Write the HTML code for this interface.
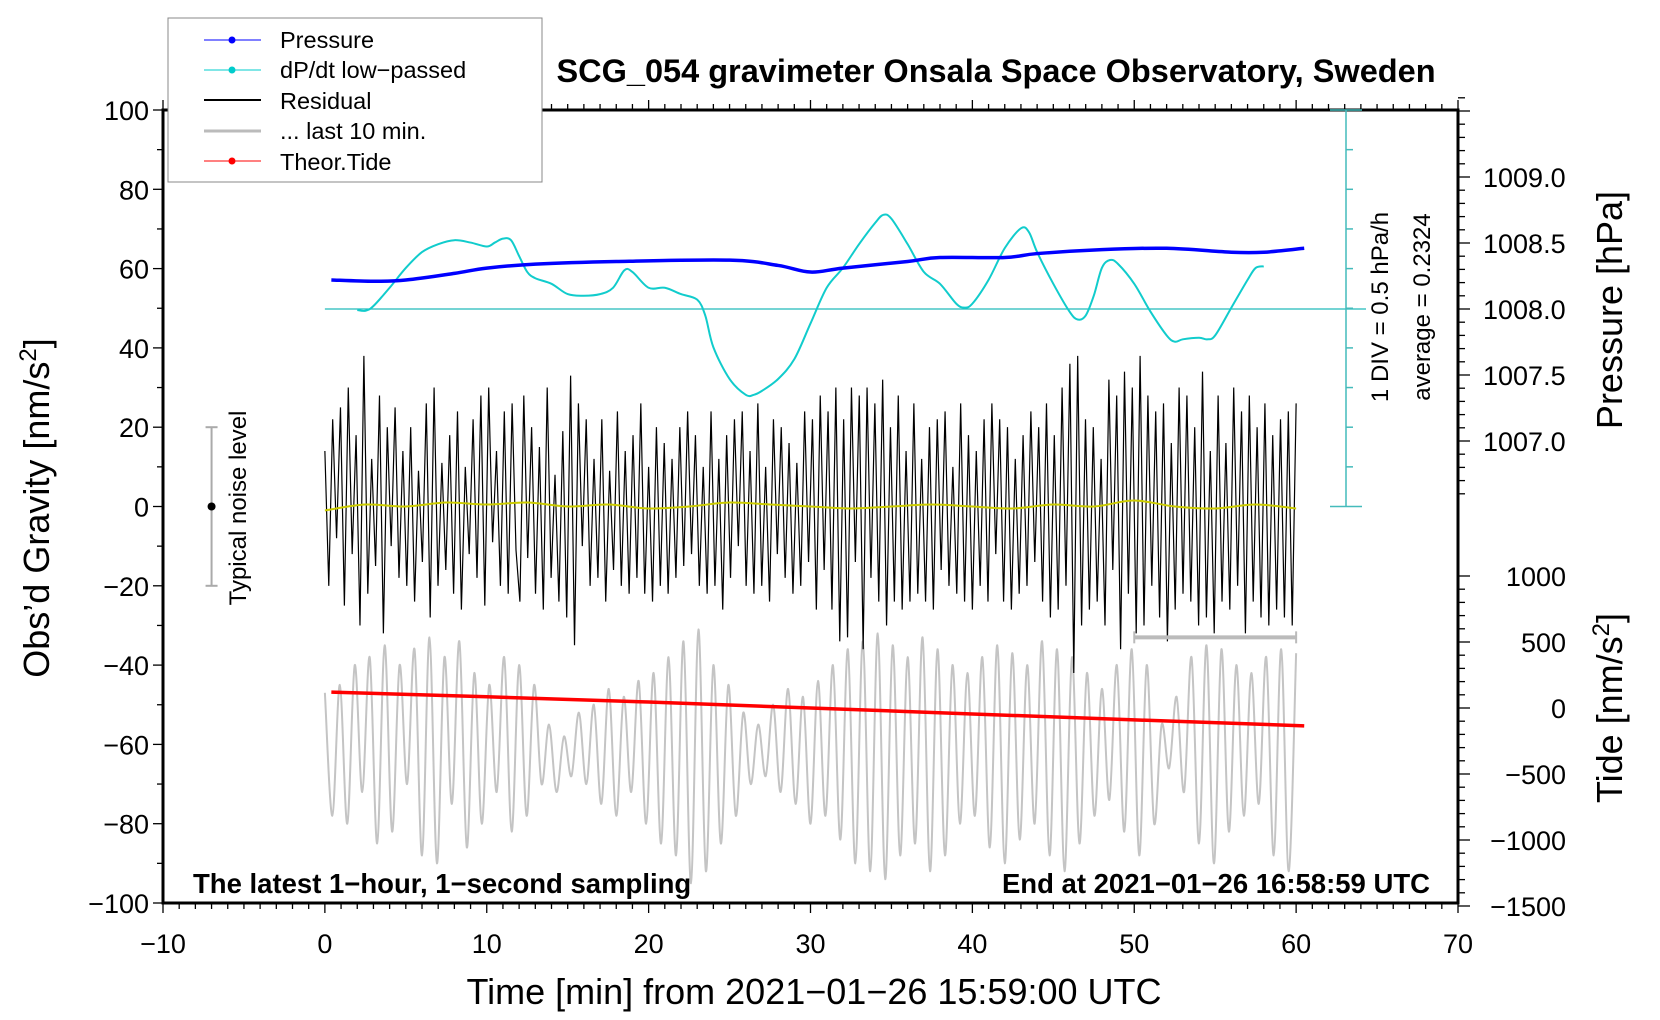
<!DOCTYPE html>
<html><head><meta charset="utf-8"><style>
html,body{margin:0;padding:0;background:#fff}
svg{display:block;font-family:"Liberation Sans",sans-serif}
</style></head><body>
<svg id="chart" width="1660" height="1020" viewBox="0 0 1660 1020" xmlns="http://www.w3.org/2000/svg">
<g id="marks"></g>
<g id="axes"></g>
<text x="996" y="82" font-size="32.5" font-weight="bold" text-anchor="middle">SCG_054 gravimeter Onsala Space Observatory, Sweden</text>
<text x="193" y="893" font-size="27.5" font-weight="bold">The latest 1−hour, 1−second sampling</text>
<text x="1430" y="893" font-size="27.5" font-weight="bold" text-anchor="end">End at 2021−01−26 16:58:59 UTC</text>
<text x="814" y="1004" font-size="36" text-anchor="middle">Time [min] from 2021−01−26 15:59:00 UTC</text>
<text transform="translate(49,508) rotate(-90)" font-size="36" text-anchor="middle">Obs’d Gravity [nm/s<tspan font-size="24" dy="-13">2</tspan><tspan dy="13">]</tspan></text>
<text transform="translate(1622,310) rotate(-90)" font-size="36" text-anchor="middle">Pressure [hPa]</text>
<text transform="translate(1622,708) rotate(-90)" font-size="36" text-anchor="middle">Tide [nm/s<tspan font-size="24" dy="-13">2</tspan><tspan dy="13">]</tspan></text>
<text transform="translate(1388,307) rotate(-90)" font-size="24" text-anchor="middle">1 DIV = 0.5 hPa/h</text>
<text transform="translate(1430,307) rotate(-90)" font-size="24" text-anchor="middle">average = 0.2324</text>
<text transform="translate(246,508) rotate(-90)" font-size="24" text-anchor="middle">Typical noise level</text>
<g>
<rect x="168" y="18" width="374" height="164" fill="#fff" stroke="#888" stroke-width="1"/>
<g><line x1="204" y1="40" x2="261" y2="40" stroke="#00f" stroke-width="1"/><circle cx="232" cy="40" r="3.5" fill="#00f"/><text x="280" y="48" font-size="23.5">Pressure</text></g>
<g><line x1="204" y1="70" x2="261" y2="70" stroke="#0cc" stroke-width="1"/><circle cx="232" cy="70" r="3.5" fill="#0cc"/><text x="280" y="78" font-size="23.5">dP/dt low−passed</text></g>
<g><line x1="204" y1="100" x2="261" y2="100" stroke="#000" stroke-width="2"/><text x="280" y="109" font-size="23.5">Residual</text></g>
<g><line x1="204" y1="131" x2="261" y2="131" stroke="#bbb" stroke-width="3"/><text x="280" y="139" font-size="23.5">... last 10 min.</text></g>
<g><line x1="204" y1="161" x2="261" y2="161" stroke="#f00" stroke-width="1"/><circle cx="232" cy="161" r="3.5" fill="#f00"/><text x="280" y="170" font-size="23.5">Theor.Tide</text></g>
</g>
</svg>
<script>
const xTicks=[-10,0,10,20,30,40,50,60,70];
const yTicks=[-100,-80,-60,-40,-20,0,20,40,60,80,100];
const pTicks=[1007.0,1007.5,1008.0,1008.5,1009.0];
const tTicks=[-1500,-1000,-500,0,500,1000];
const dpdtT=[2,2.5,3,4,5,6,7,8,9,10,10.5,11,11.5,12,12.5,13,14,15,16,17,17.8,18.5,19,20,21,22,23,23.5,24,25,26,26.5,27,28,29,30,31,32,33,34,34.5,35,36,37,38,39,39.5,40,41,42,43,43.5,44,45,46,46.5,47,47.5,48,48.5,49,50,51,52,52.5,53,54,54.5,55,56,57,57.5,58];
const dpdtV=[0.22,0.21,0.27,0.50,0.75,0.95,1.05,1.10,1.07,1.02,1.07,1.12,1.10,0.90,0.70,0.62,0.55,0.42,0.40,0.42,0.50,0.72,0.70,0.50,0.50,0.42,0.35,0.15,-0.25,-0.65,-0.85,-0.85,-0.80,-0.65,-0.40,0.05,0.50,0.75,1.05,1.32,1.42,1.37,1.05,0.70,0.55,0.30,0.25,0.30,0.60,1.00,1.25,1.20,0.95,0.55,0.20,0.10,0.15,0.40,0.75,0.85,0.80,0.55,0.20,-0.10,-0.18,-0.15,-0.13,-0.15,-0.10,0.25,0.60,0.75,0.77];
const dpdtAvg=0.2324;
const presT=[0.4,3,5,8,10,13,18,25,28,30,32,36,38,42,44,48,52,56,58,60.5];
const presV=[1008.22,1008.21,1008.22,1008.27,1008.31,1008.34,1008.36,1008.37,1008.33,1008.28,1008.31,1008.36,1008.39,1008.39,1008.42,1008.45,1008.46,1008.43,1008.43,1008.46];
const tideT=[0.4,10,20,30,40,50,60.5];
const tideV=[120,85,45,0,-45,-90,-135];
const residual=[14,-20,22,-8,25,-25,30,-12,18,-30,38,-22,12,-15,28,-32,20,-10,25,-18,14,-20,20,-24,9,-14,26,-28,30,-20,11,-16,18,-22,24,-26,10,-12,22,-18,28,-25,30,-9,14,-20,24,-22,26,-11,
-24,28,-13,20,-22,15,-26,30,-18,8,-24,19,-28,33,-35,26,-10,22,-20,12,-18,22,-24,9,-16,24,-20,14,-22,18,-18,26,-22,10,-24,20,-20,16,-22,12,-18,20,-15,24,-12,18,-20,10,-22,24,
-20,12,-26,18,-18,22,-10,24,-20,14,-22,26,-20,10,-24,22,-12,20,-18,16,-22,11,-20,24,-14,22,-26,28,-16,24,-26,30,-34,22,-33,30,-14,28,-36,30,-18,26,-24,32,-30,20,-24,28,-26,14,
-24,26,-22,12,-24,20,-26,22,-16,24,-20,10,-22,26,-24,18,-26,14,-20,22,-24,26,-12,22,-24,20,-26,12,-22,18,-20,24,-14,20,-24,26,-28,18,-26,30,-20,36,-42,38,-30,22,-26,20,-24,12,
-30,32,-16,28,-36,34,-22,30,-32,38,-30,28,-20,24,-28,26,-34,16,-26,30,-22,28,-24,20,-30,34,-28,14,-32,28,-24,16,-26,30,-20,24,-32,28,-24,20,-28,26,-30,18,-26,22,-28,24,-30,26];
const last10=[-47,-78,-45,-80,-40,-72,-38,-85,-35,-82,-40,-70,-36,-88,-33,-90,-38,-75,-34,-86,-42,-80,-45,-72,
-38,-82,-40,-78,-45,-70,-55,-72,-58,-68,-52,-70,-50,-75,-46,-78,-48,-72,-44,-80,-42,-85,
-38,-88,-34,-95,-31,-92,-40,-85,-45,-78,-52,-70,-55,-68,-50,-72,-46,-75,-48,-80,-44,-78,
-40,-84,-36,-90,-34,-92,-32,-94,-35,-88,-38,-85,-33,-92,-36,-88,-40,-80,-42,-78,-38,-86,-35,-90,
-37,-84,-40,-80,-34,-88,-36,-92,-38,-85,-42,-78,-46,-74,-40,-82,-36,-88,-40,-80,
-55,-66,-48,-72,-38,-85,-35,-90,-36,-82,-40,-78,-42,-75,-38,-88,-36,-92,-37];
const smoothRes=[-1,0.5,0,1,0.5,1,0,0.5,-0.5,0,1,0.5,0,-0.5,0,0.5,0,-0.5,0.5,0,1.5,0,-0.5,0.5,-0.5];
const last10Bar=[50,60];
const last10BarLevel=-33;
const noiseX=-7, noiseHalf=20;

const X0=163,X1=1458,Y0=110,Y1=903;
const xs=m=>X0+(m+10)*(X1-X0)/80;
const ys=g=>Y1-(g+100)*(Y1-Y0)/200;
const yp=p=>309-(p-1008)*132;
const yt=t=>708-t*132/1000;
const yd=v=>309-(v-dpdtAvg)/0.5*39.65;
const NS="http://www.w3.org/2000/svg";
const marks=document.getElementById('marks'), axes=document.getElementById('axes');
function el(tag,attrs,parent){const e=document.createElementNS(NS,tag);for(const k in attrs)e.setAttribute(k,attrs[k]);parent.appendChild(e);return e;}
function smoothPath(pts){let d=`M${pts[0][0]},${pts[0][1]}`;for(let i=0;i<pts.length-1;i++){const p0=pts[i-1]||pts[i],p1=pts[i],p2=pts[i+1],p3=pts[i+2]||p2;
d+=` C${p1[0]+(p2[0]-p0[0])/6},${p1[1]+(p2[1]-p0[1])/6} ${p2[0]-(p3[0]-p1[0])/6},${p2[1]-(p3[1]-p1[1])/6} ${p2[0]},${p2[1]}`;}return d;}

let pts=last10.map((v,i)=>[xs(i*60/(last10.length-1)),ys(v)]);
let e=el('path',{d:smoothPath(pts),fill:'none',stroke:'#c4c4c4','stroke-width':2},marks);


pts=residual.map((v,i)=>[xs(i*60/(residual.length-1)),ys(v)]);
e=el('polyline',{points:pts.map(p=>p.join(',')).join(' '),fill:'none',stroke:'#000','stroke-width':1.2},marks);


pts=smoothRes.map((v,i)=>[xs(i*60/(smoothRes.length-1)),ys(v)]);
e=el('path',{d:smoothPath(pts),fill:'none',stroke:'#cc0','stroke-width':2},marks);


e=el('line',{x1:xs(0),x2:1366,y1:yd(dpdtAvg),y2:yd(dpdtAvg),stroke:'#2bb',"stroke-width":1.3},marks);


pts=dpdtT.map((t,i)=>[xs(t),yd(dpdtV[i])]);
e=el('path',{d:smoothPath(pts),fill:'none',stroke:'#1cc','stroke-width':2},marks);


pts=presT.map((t,i)=>[xs(t),yp(presV[i])]);
e=el('path',{d:smoothPath(pts),fill:'none',stroke:'#00f','stroke-width':3.5},marks);


pts=tideT.map((t,i)=>[xs(t),yt(tideV[i])]);
e=el('polyline',{points:pts.map(p=>p.join(',')).join(' '),fill:'none',stroke:'#f00','stroke-width':3.5},marks);


const bg=el('g',{stroke:'#bbb','stroke-width':4},marks);


el('line',{x1:xs(last10Bar[0]),x2:xs(last10Bar[1]),y1:ys(last10BarLevel),y2:ys(last10BarLevel)},bg);
el('line',{x1:xs(last10Bar[0]),x2:xs(last10Bar[0]),y1:ys(last10BarLevel)-6,y2:ys(last10BarLevel)+6,'stroke-width':2},bg);
el('line',{x1:xs(last10Bar[1]),x2:xs(last10Bar[1]),y1:ys(last10BarLevel)-6,y2:ys(last10BarLevel)+6,'stroke-width':2},bg);
const ng=el('g',{stroke:'#aaa','stroke-width':2},marks);


el('line',{x1:xs(noiseX),x2:xs(noiseX),y1:ys(noiseHalf),y2:ys(-noiseHalf)},ng);
el('line',{x1:xs(noiseX)-6,x2:xs(noiseX)+6,y1:ys(noiseHalf),y2:ys(noiseHalf)},ng);
el('line',{x1:xs(noiseX)-6,x2:xs(noiseX)+6,y1:ys(-noiseHalf),y2:ys(-noiseHalf)},ng);
el('circle',{cx:xs(noiseX),cy:ys(0),r:4,fill:'#000',stroke:'none'},ng);

e=el('rect',{x:X0,y:Y0,width:X1-X0,height:Y1-Y0,fill:'none',stroke:'#000','stroke-width':3},axes);


const tk=el('g',{stroke:'#000','stroke-width':1.3},axes);
for(let m=-10;m<=70;m++){const big=m%10===0;el('line',{x1:xs(m),x2:xs(m),y1:Y1,y2:Y1+(big?10:6)},tk);el('line',{x1:xs(m),x2:xs(m),y1:Y0,y2:Y0-(big?10:6)},tk);}
for(let g=-100;g<=100;g+=10){el('line',{x1:X0,x2:X0-(g%20===0?10:6),y1:ys(g),y2:ys(g)},tk);}
for(let p=1006.6;p<=1009.61;p+=0.1){const big=Math.abs(p*2-Math.round(p*2))<0.01;el('line',{x1:X1,x2:X1+(big?12:7),y1:yp(p),y2:yp(p)},tk);}
for(let t=-1500;t<=1000;t+=100){const big=t%500===0;el('line',{x1:X1,x2:X1+(big?12:7),y1:yt(t),y2:yt(t)},tk);}
const ca=el('g',{stroke:'#4bb','stroke-width':1.5},axes);


el('line',{x1:1346,x2:1346,y1:Y0,y2:ys(0)},ca);
for(let g=0;g<=100;g+=10){const end=(g===0||g===100);el('line',{x1:end?1330:1346,x2:end?1362:1353,y1:ys(g),y2:ys(g)},ca);}
xTicks.forEach(m=>{const t=el('text',{x:xs(m),y:953,'font-size':27,'text-anchor':'middle'},axes);t.textContent=String(m).replace('-','−');

});
yTicks.forEach(g=>{const t=el('text',{x:X0-14,y:ys(g)+10,'font-size':27,'text-anchor':'end'},axes);t.textContent=String(g).replace('-','−');

});
pTicks.forEach(p=>{const t=el('text',{x:1483,y:yp(p)+10,'font-size':27},axes);t.textContent=p.toFixed(1);

});
tTicks.forEach(v=>{const t=el('text',{x:1566,y:yt(v)+10,'font-size':27,'text-anchor':'end'},axes);t.textContent=String(v).replace('-','−');

});
</script>
</body></html>
